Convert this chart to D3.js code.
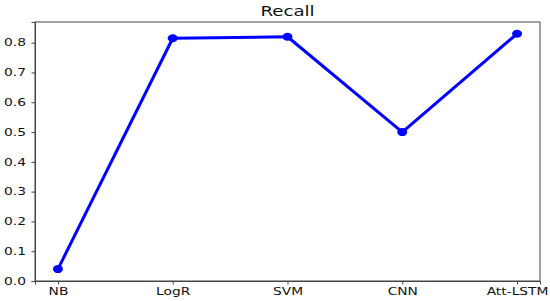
<!DOCTYPE html>
<html><head><meta charset="utf-8">
<script src="https://cdn.jsdelivr.net/npm/d3@7"></script>
<style>body{margin:0;background:#fff}svg{display:block}</style>
</head><body>
<script>
const categories = ["NB", "LogR", "SVM", "CNN", "Att-LSTM"];
const recall = [0.04, 0.815, 0.82, 0.50, 0.83];
const yTicks = [0.0, 0.1, 0.2, 0.3, 0.4, 0.5, 0.6, 0.7, 0.8];
const title = "Recall";

const W = 550, H = 301;
const m = {left: 35, right: 10, top: 22, bottom: 20};
const sx = 1.38;
const svg = d3.select("body").append("svg").attr("width", W).attr("height", H);

const x = d3.scalePoint().domain(categories).range([m.left, W - m.right]).padding(0.2);
const y = d3.scaleLinear().domain([0, 0.8695]).range([H - m.bottom, m.top]);

svg.append("rect").attr("x", m.left).attr("y", m.top)
  .attr("width", W - m.right - m.left).attr("height", H - m.bottom - m.top)
  .attr("fill", "none").attr("stroke", "#444").attr("stroke-width", 1);

const font = "DejaVu Sans, sans-serif";
const xa = svg.append("g").attr("transform", `translate(0,${H - m.bottom})`)
  .call(d3.axisBottom(x).tickSize(3.5).tickPadding(3));
const ya = svg.append("g").attr("transform", `translate(${m.left},0)`)
  .call(d3.axisLeft(y).tickValues(yTicks).tickFormat(d3.format(".1f")).tickSize(3.5).tickPadding(3));
[xa, ya].forEach(a => {
  a.select(".domain").attr("stroke", "#444");
  a.selectAll(".tick line").attr("stroke", "#444");
  a.selectAll("text").attr("font-family", font).attr("font-size", 10).attr("fill", "#111")
    .attr("transform", `scale(${sx},1)`);
});

const line = d3.line().x((d, i) => x(categories[i])).y(d => y(d));
svg.append("path").datum(recall).attr("d", line)
  .attr("fill", "none").attr("stroke", "#0000ff").attr("stroke-width", 3).attr("stroke-linejoin", "round");
svg.selectAll("ellipse.pt").data(recall).enter().append("ellipse")
  .attr("cx", (d, i) => x(categories[i])).attr("cy", d => y(d))
  .attr("rx", 5).attr("ry", 4).attr("fill", "#0000ff");

svg.append("text")
  .attr("transform", `translate(${(m.left + W - m.right) / 2},16) scale(1.3,1)`)
  .attr("text-anchor", "middle").attr("font-family", font).attr("font-size", 14)
  .attr("fill", "#111").text(title);
</script>
</body></html>
